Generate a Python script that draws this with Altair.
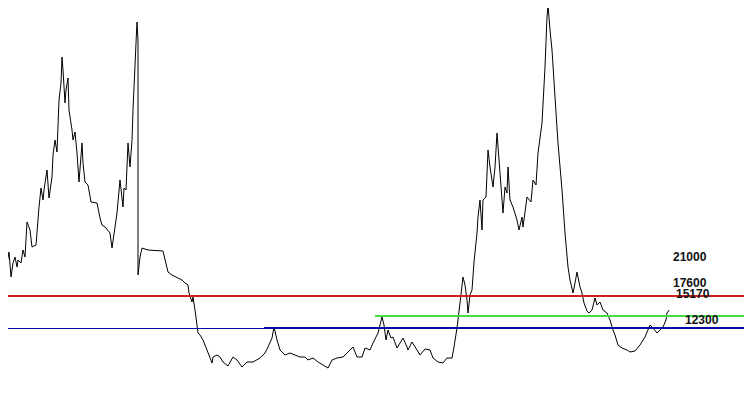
import altair as alt
import pandas as pd

# time index of each traced point
t_vals = [0,2,3,5,7,9,11,13,15,17,18,21,23,25,27,30,32,36,39,41,43,44,47,49,52,53,55,57,59,61,62,63,65,66,68,69,72,73,75,77,79,82,83,85,88,91,97,100,102,105,110,112,117,120,123,124,126,128,130,132,133,136,137,138,138,140,142,148,163,168,172,182,185,188,189,192,193,195,198,
          200,203,207,212,213,217,220,223,228,233,237,242,247,253,260,265,268,272,274,277,280,285,290,295,300,305,308,313,318,323,328,332,337,343,348,353,357,362,365,370,373,378,382,384,386,388,391,393,397,400,403,407,408,412,417,420,425,430,433,438,443,447,452,454,457,460,463,465,467,468,
          470,472,474,477,478,480,482,483,486,488,490,493,495,497,500,503,505,507,508,510,513,517,519,522,523,527,531,533,536,538,542,545,547,548,550,552,555,558,562,565,568,570,573,575,577,580,582,584,587,589,592,595,597,600,603,607,610,613,615,618,622,627,630,635,640,645,650,653,657,660,663,666,667,669]

# price of each traced point
price_vals = [14970,16270,17070,16870,18470,19570,17070,18470,19070,18070,18770,18470,19770,19070,22570,21770,20070,20270,24070,25970,24770,25770,27770,24970,27070,29270,30770,29570,34770,36470,39070,37770,34470,35770,36970,33770,31770,30770,31570,29470,26570,30470,28470,26570,26270,24570,24470,22970,22270,22070,21470,19970,23470,26770,24070,25970,25770,30470,28070,30770,33770,40470,42570,40770,17270,19070,19970,19770,19670,17570,17270,16770,16470,16270,15470,14570,15070,13770,11470,
              11270,10770,9770,8470,9070,9270,9070,8570,8170,9070,8770,8070,8570,8570,8970,9470,10070,10970,12070,10770,9770,9270,9470,9270,9070,9070,8770,8970,8570,8270,7970,8770,8970,9070,9570,10070,9070,9070,9970,9770,10470,11470,13070,12270,10770,11770,10970,11070,9970,10470,10970,10070,9770,10570,9770,9270,9870,9770,8970,8570,8470,8970,8970,10070,11970,14470,17070,16270,14770,13470,
              15270,15770,18570,21470,23070,24770,21770,24770,25070,29770,28070,26070,28070,31470,27470,23470,26070,25470,28070,24770,24070,22770,21770,23070,22070,25070,24570,26770,26270,29470,32470,38070,43070,44270,41770,39770,35070,30470,25770,21470,18070,16770,15470,16470,17570,16070,15470,14470,13670,13470,13770,14970,14270,14570,13770,13470,12770,11770,11270,10270,9970,9770,9570,9670,10270,11070,12270,11970,11470,11770,12070,12770,13470,13770]

# horizontal levels
level_names = ["red", "green", "blue", "blue_thin"]
level_price = [15170, 13170, 11970, 11920]
level_start = [0, 375, 264, 0]
level_end = [752, 752, 752, 264]
level_color = ["#cc2020", "#44dd44", "#0a0aa8", "#0a0aa8"]
level_width = [2.2, 2.2, 2.2, 1]

# labels
label_text = ["21000", "17600", "15170", "12300"]
label_t = [673, 673, 676, 685]
label_price = [19070, 16470, 15370, 12770]

line_df = pd.DataFrame({"t": t_vals, "price": price_vals, "i": list(range(len(t_vals)))})
lev_df = pd.DataFrame({"name": level_names, "price": level_price, "t0": level_start,
                       "t1": level_end, "color": level_color, "w": level_width})
lab_df = pd.DataFrame({"label": label_text, "t": label_t, "price": label_price})

xs = alt.Scale(domain=[8, 744], nice=False, zero=False)
ys = alt.Scale(domain=[6470, 43970], nice=False, zero=False)

base_x = alt.X("t:Q", scale=xs, axis=None)
base_y = alt.Y("price:Q", scale=ys, axis=None)

line = alt.Chart(line_df).mark_line(color="black", strokeWidth=1, clip=True).encode(
    x=base_x, y=base_y, order="i:Q"
)

rules = alt.Chart(lev_df).mark_rule(clip=True).encode(
    x=alt.X("t0:Q", scale=xs, axis=None),
    x2="t1:Q",
    y=base_y,
    color=alt.Color("color:N", scale=None),
    strokeWidth=alt.StrokeWidth("w:Q", scale=None),
)

labels = alt.Chart(lab_df).mark_text(
    align="left", baseline="middle", font="Liberation Sans", fontSize=12,
    fontWeight="bold", color="#111111"
).encode(x=base_x, y=base_y, text="label:N")

chart = alt.layer(line, rules, labels).properties(
    width=736, height=375, padding=0
).configure_view(stroke=None)

chart.save("out.html", embed_options={"renderer": "svg", "actions": False})
